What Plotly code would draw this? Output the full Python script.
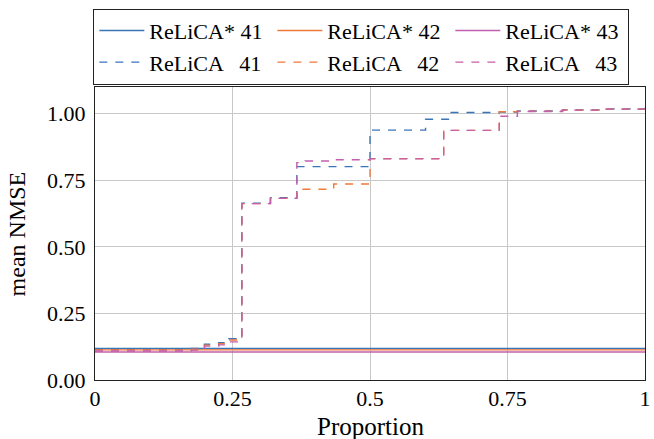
import plotly.graph_objects as go

# ---- data ----
x_solid = [0.0, 1.0]
solid_41 = [0.118, 0.118]
solid_42 = [0.113, 0.113]
solid_43 = [0.105, 0.105]

x_dash_41 = [0, 0.175, 0.199, 0.225, 0.243, 0.267, 0.319, 0.367, 0.5, 0.601, 0.644, 0.735, 0.768, 0.85, 0.92, 1.0]
y_dash_41 = [0.116, 0.118, 0.134, 0.140, 0.155, 0.664, 0.684, 0.801, 0.938, 0.979, 1.004, 1.006, 1.010, 1.014, 1.018, 1.022]

x_dash_42 = [0, 0.175, 0.199, 0.225, 0.243, 0.267, 0.319, 0.367, 0.434, 0.5, 0.634, 0.735, 0.768, 0.85, 0.92, 1.0]
y_dash_42 = [0.113, 0.116, 0.131, 0.136, 0.150, 0.662, 0.682, 0.716, 0.736, 0.831, 0.937, 1.007, 1.009, 1.013, 1.017, 1.022]

x_dash_43 = [0, 0.175, 0.199, 0.225, 0.243, 0.267, 0.319, 0.367, 0.382, 0.434, 0.5, 0.634, 0.735, 0.768, 0.85, 0.92, 1.0]
y_dash_43 = [0.109, 0.112, 0.127, 0.132, 0.143, 0.662, 0.682, 0.816, 0.822, 0.827, 0.830, 0.937, 0.990, 1.008, 1.013, 1.017, 1.022]

names_solid = ["ReLiCA* 41", "ReLiCA* 42", "ReLiCA* 43"]
names_dash = ["ReLiCA\u2002\u200941", "ReLiCA\u2002\u200942", "ReLiCA\u2002\u200943"]
colors = ["#3b75b8", "#f07a3a", "#c25fae"]

x_ticks = [0, 0.25, 0.5, 0.75, 1]
x_ticktext = ["0", "0.25", "0.5", "0.75", "1"]
y_ticks = [0, 0.25, 0.5, 0.75, 1.0]
y_ticktext = ["0.00", "0.25", "0.50", "0.75", "1.00"]
x_title = "Proportion"
y_title = "mean NMSE"

FONT = "Liberation Serif"

fig = go.Figure()
for ys, nm, c in zip([solid_41, solid_42, solid_43], names_solid, colors):
    fig.add_trace(go.Scatter(x=x_solid, y=ys, mode="lines", name=nm,
                             line=dict(color=c, width=1.4)))
for xs, ys, nm, c in zip([x_dash_41, x_dash_42, x_dash_43],
                         [y_dash_41, y_dash_42, y_dash_43], names_dash, colors):
    fig.add_trace(go.Scatter(x=xs, y=ys, mode="lines", name=nm, line_shape="hv",
                             line=dict(color=c, width=1.4, dash="8px,8px")))

fig.update_layout(
    width=654, height=439,
    margin=dict(l=95, r=9, t=87, b=59),
    plot_bgcolor="white", paper_bgcolor="white",
    font=dict(family=FONT, size=22, color="black"),
    legend=dict(orientation="h", x=-0.003, xanchor="left", y=1.267, yanchor="top",
                entrywidth=118, entrywidthmode="pixels", itemwidth=45,
                bordercolor="#222", borderwidth=1, bgcolor="white",
                font=dict(family=FONT, size=22), tracegroupgap=0),
    xaxis=dict(range=[0, 1], tickvals=x_ticks, ticktext=x_ticktext,
               showgrid=True, gridcolor="#c8c8c8", gridwidth=1,
               showline=True, linecolor="#222", linewidth=1.2, mirror=True,
               zeroline=False, ticks="", ticklabelstandoff=-2, automargin=False),
    yaxis=dict(range=[0, 1.1], tickvals=y_ticks, ticktext=y_ticktext,
               showgrid=True, gridcolor="#c8c8c8", gridwidth=1,
               showline=True, linecolor="#222", linewidth=1.2, mirror=True,
               zeroline=False, ticks="", ticklabelstandoff=4, automargin=False),
    annotations=[
        dict(text=x_title, x=0.5, y=-0.160, xref="paper", yref="paper",
             xanchor="center", yanchor="middle", showarrow=False,
             font=dict(family=FONT, size=25)),
        dict(text=y_title, x=-0.142, y=0.5, xref="paper", yref="paper",
             xanchor="center", yanchor="middle", showarrow=False, textangle=-90,
             font=dict(family=FONT, size=24)),
    ],
)

fig.write_html("out.html")
